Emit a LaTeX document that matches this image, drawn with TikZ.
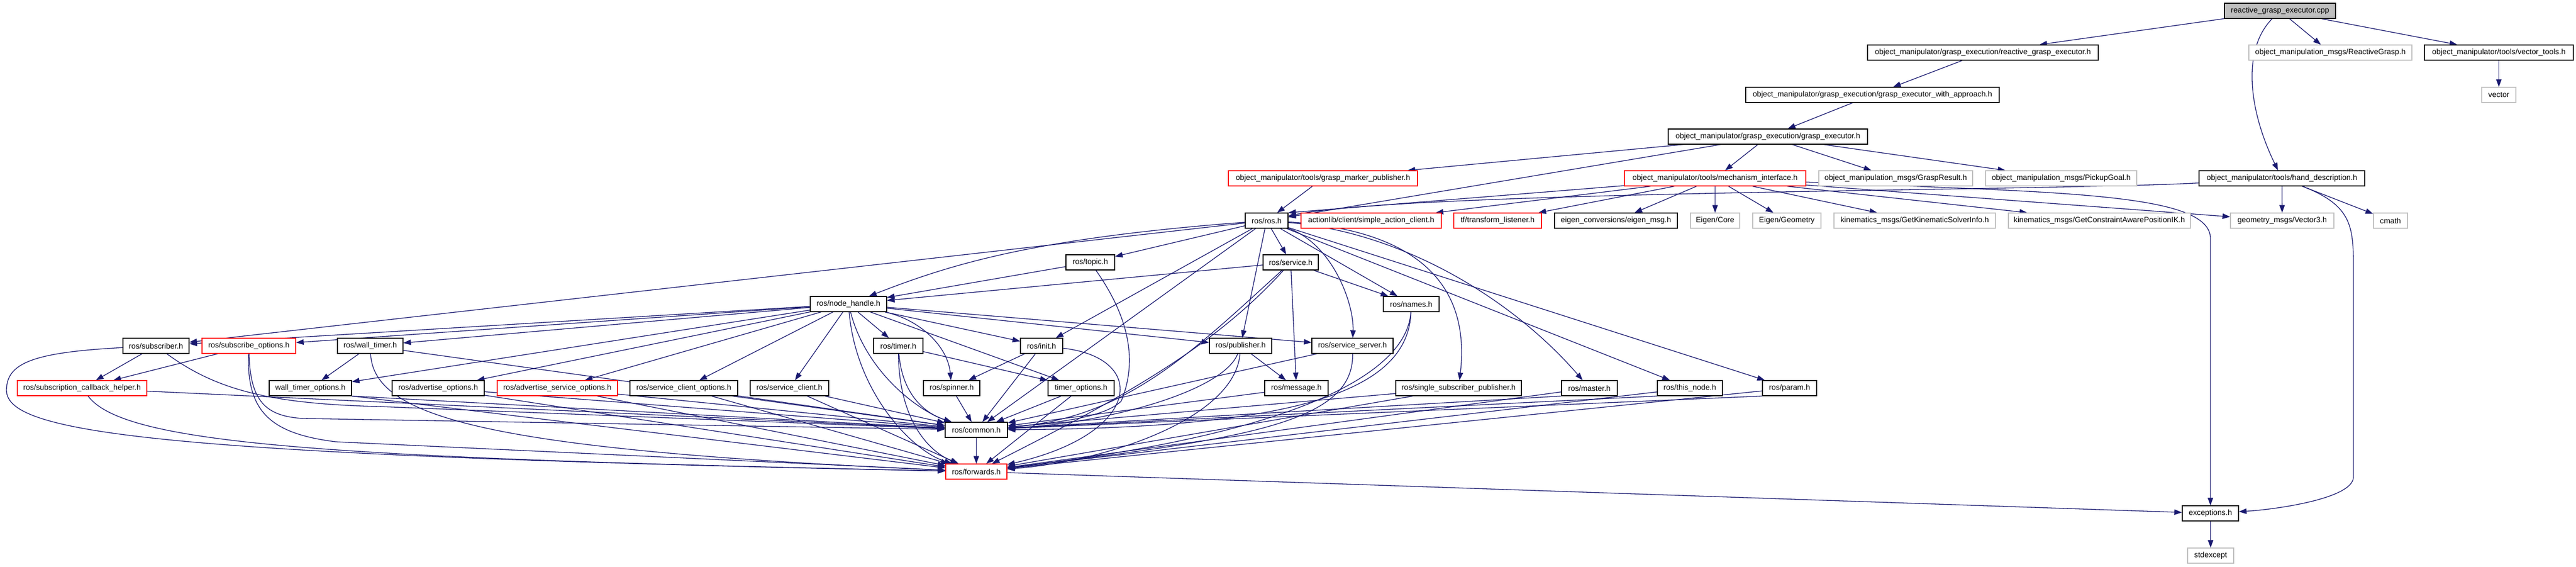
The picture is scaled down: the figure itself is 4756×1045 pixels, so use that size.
\documentclass[tikz,border=0pt]{standalone}
\usepackage{fontspec}
\setmainfont{Liberation Sans}
\usetikzlibrary{arrows.meta}
\pgfdeclarelayer{bgl}
\pgfsetlayers{bgl,main}
\definecolor{edgeblue}{HTML}{191970}
\definecolor{greyb}{HTML}{BFBFBF}
\newcommand\nodefont{\fontsize{14.2}{16}\selectfont}
\tikzset{
 nb/.style={draw=black, line width=1.3pt, fill=white, minimum height=28pt, inner sep=2pt, font=\nodefont, text=black},
 ng/.style={nb, draw=greyb},
 nr/.style={nb, draw=red},
 e/.style={draw=edgeblue, line width=1.3pt, -{Triangle[length=14pt,width=10pt]}},
}
\begin{document}
\begin{tikzpicture}[x=1pt,y=-1pt]
\useasboundingbox (0,0) rectangle (4756,1045);
% row 0
\node[nb, fill=greyb, minimum width=205pt] (cpp) at (4209.5,20) {reactive\_grasp\_executor.cpp};
% row 1
\node[nb, minimum width=426pt] (rgeh) at (3661,97) {object\_manipulator/grasp\_execution/reactive\_grasp\_executor.h};
\node[ng, minimum width=301pt] (rgmsg) at (4302.5,97) {object\_manipulation\_msgs/ReactiveGrasp.h};
\node[nb, minimum width=275pt] (vtools) at (4613.5,97) {object\_manipulator/tools/vector\_tools.h};
% row 2
\node[nb, minimum width=468pt] (appr) at (3457,175) {object\_manipulator/grasp\_execution/grasp\_executor\_with\_approach.h};
\node[ng, minimum width=63pt] (vector) at (4613.5,175) {vector};
% row 3
\node[nb, minimum width=368pt] (gexec) at (3264,252) {object\_manipulator/grasp\_execution/grasp\_executor.h};
% row 4
\node[nr, minimum width=349pt] (marker) at (2442.5,329) {object\_manipulator/tools/grasp\_marker\_publisher.h};
\node[nr, minimum width=335pt] (mech) at (3166.5,329) {object\_manipulator/tools/mechanism\_interface.h};
\node[ng, minimum width=284pt] (gresult) at (3500,329) {object\_manipulation\_msgs/GraspResult.h};
\node[ng, minimum width=279pt] (pickup) at (3805.5,329) {object\_manipulation\_msgs/PickupGoal.h};
\node[nb, minimum width=306pt] (hand) at (4213,329) {object\_manipulator/tools/hand\_description.h};
% row 5
\node[nb, minimum width=79pt] (ros) at (2338.5,407) {ros/ros.h};
\node[nr, minimum width=259pt] (actionlib) at (2531.5,407) {actionlib/client/simple\_action\_client.h};
\node[nr, minimum width=162pt] (tf) at (2765,407) {tf/transform\_listener.h};
\node[nb, minimum width=227pt] (eigenmsg) at (2983.5,407) {eigen\_conversions/eigen\_msg.h};
\node[ng, minimum width=91pt] (ecore) at (3166.5,407) {Eigen/Core};
\node[ng, minimum width=126pt] (egeom) at (3299,407) {Eigen/Geometry};
\node[ng, minimum width=298pt] (gksi) at (3535,407) {kinematics\_msgs/GetKinematicSolverInfo.h};
\node[ng, minimum width=336pt] (gcap) at (3876,407) {kinematics\_msgs/GetConstraintAwarePositionIK.h};
\node[ng, minimum width=191pt] (vec3) at (4213.5,407) {geometry\_msgs/Vector3.h};
\node[ng, minimum width=63pt] (cmath) at (4413.5,407) {cmath};
% row 6
\node[nb, minimum width=90pt] (topic) at (2013,484) {ros/topic.h};
\node[nb, minimum width=102pt] (service) at (2383,484) {ros/service.h};
% row 7
\node[nb, minimum width=141pt] (nh) at (1566.5,561) {ros/node\_handle.h};
\node[nb, minimum width=103pt] (names) at (2605.5,561) {ros/names.h};
% row 8
\node[nb, minimum width=122pt] (sub) at (288,638) {ros/subscriber.h};
\node[nr, minimum width=173pt] (subopts) at (459.5,638) {ros/subscribe\_options.h};
\node[nb, minimum width=121pt] (wtimer) at (683.5,638) {ros/wall\_timer.h};
\node[nb, minimum width=91pt] (timer) at (1658.5,638) {ros/timer.h};
\node[nb, minimum width=78pt] (init) at (1923,638) {ros/init.h};
\node[nb, minimum width=115pt] (pub) at (2290.5,638) {ros/publisher.h};
\node[nb, minimum width=150pt] (sserver) at (2497,638) {ros/service\_server.h};
% row 9
\node[nr, minimum width=239pt] (cbh) at (151.5,716) {ros/subscription\_callback\_helper.h};
\node[nb, minimum width=152pt] (wtopts) at (573,716) {wall\_timer\_options.h};
\node[nb, minimum width=170pt] (advopts) at (809,716) {ros/advertise\_options.h};
\node[nr, minimum width=222pt] (asopts) at (1029,716) {ros/advertise\_service\_options.h};
\node[nb, minimum width=199pt] (scopts) at (1262.5,716) {ros/service\_client\_options.h};
\node[nb, minimum width=145pt] (sclient) at (1457.5,716) {ros/service\_client.h};
\node[nb, minimum width=104pt] (spinner) at (1757,716) {ros/spinner.h};
\node[nb, minimum width=122pt] (topts) at (1996,716) {timer\_options.h};
\node[nb, minimum width=117pt] (message) at (2393.5,716) {ros/message.h};
\node[nb, minimum width=232pt] (ssp) at (2693,716) {ros/single\_subscriber\_publisher.h};
\node[nb, minimum width=103pt] (master) at (2934.5,716) {ros/master.h};
\node[nb, minimum width=120pt] (thisnode) at (3120,716) {ros/this\_node.h};
\node[nb, minimum width=100pt] (param) at (3304,716) {ros/param.h};
% rows 10-13
\node[nb, minimum width=115pt] (common) at (1802.5,793) {ros/common.h};
\node[nr, minimum width=113pt] (fwd) at (1802.5,870) {ros/forwards.h};
\node[nb, minimum width=104pt] (exc) at (4081,947) {exceptions.h};
\node[ng, minimum width=85pt] (stdexc) at (4081.5,1025) {stdexcept};

\begin{pgfonlayer}{bgl}
\fill[white] (0,0) rectangle (4756,1045);
% straight connectors
\foreach \a/\b in {cpp/rgeh, cpp/rgmsg, cpp/vtools, vtools/vector, rgeh/appr, appr/gexec,
  gexec/marker, gexec/ros, gexec/mech, gexec/gresult, gexec/pickup, marker/ros,
  mech/actionlib, mech/tf, mech/eigenmsg, mech/ecore, mech/egeom, mech/gksi, mech/gcap, mech/vec3,
  hand/vec3, hand/cmath, exc/stdexc, fwd/exc,
  ros/topic, ros/service, ros/names, ros/init, ros/pub, ros/sub, ros/thisnode, ros/param, ros/common,
  topic/nh, service/nh, service/names, service/message,
  nh/pub, nh/sub, nh/sserver, nh/sclient, nh/timer, nh/wtimer, nh/advopts, nh/asopts, nh/subopts,
  nh/scopts, nh/topts, nh/wtopts, nh/init,
  sub/cbh, subopts/cbh, cbh/common, wtimer/wtopts, wtimer/common,
  advopts/common, advopts/fwd, asopts/common, asopts/fwd, scopts/common, scopts/fwd,
  sclient/common, sclient/fwd, timer/topts, spinner/common, init/spinner, init/common,
  topts/common, topts/fwd, pub/message, message/common, sserver/common, ssp/common, ssp/fwd,
  master/fwd, thisnode/fwd, param/fwd, common/fwd}
  \draw[e] (\a) -- (\b);

% routed connectors
\draw[e] (mech) -- (ros.north east);
\draw[e] (cpp) .. controls (4140,90) and (4150,200) .. (hand);
\draw[e] (hand) .. controls (4345,380) and (4345,420) .. (4345,500) -- (4345,880) .. controls (4345,920) and (4200,940) .. (exc);
\draw[e] (mech) .. controls (3800,355) and (4081,355) .. (4081,440) -- (exc);
\draw[e] (hand) .. controls (3800,352) and (2600,352) .. (ros);
\draw[e] (ros) .. controls (1900,440) and (1750,490) .. (nh);
\draw[e] (ros) .. controls (2460,450) and (2500,560) .. (sserver);
\draw[e] (ros) .. controls (2550,420) and (2720,480) .. (ssp);
\draw[e] (ros) .. controls (2600,430) and (2800,560) .. (master);
\draw[e] (topic) .. controls (2095,600) and (2095,680) .. (2070,740) .. controls (2040,770) and (1950,780) .. (common);
\draw[e] (service) .. controls (2200,650) and (2080,770) .. (common);
\draw[e] (service) .. controls (2250,630) and (2100,720) .. (fwd);
\draw[e] (names) .. controls (2600,720) and (2400,790) .. (common);
\draw[e] (names) .. controls (2600,660) and (2480,790) .. (fwd);
\draw[e] (nh) .. controls (1580,720) and (1680,830) .. (fwd);
\draw[e] (nh) .. controls (1600,690) and (1700,760) .. (common);
\draw[e] (nh) .. controls (1700,590) and (1750,640) .. (spinner);
\draw[e] (timer) .. controls (1665,720) and (1700,760) .. (common);
\draw[e] (timer) .. controls (1660,770) and (1710,830) .. (fwd);
\draw[e] (init) .. controls (2120,660) and (2110,800) .. (fwd);
\draw[e] (pub) .. controls (2260,720) and (2050,780) .. (common);
\draw[e] (pub) .. controls (2280,770) and (2050,850) .. (fwd);
\draw[e] (sserver) .. controls (2500,780) and (2300,810) .. (fwd);
\draw[e] (sub) .. controls (60,650) and (12,670) .. (12,720) .. controls (12,800) and (300,840) .. (fwd);
\draw[e] (sub) .. controls (400,720) and (500,745) .. (700,750) -- (common);
\draw[e] (cbh) .. controls (230,820) and (600,845) .. (fwd);
\draw[e] (subopts) .. controls (462,740) and (490,768) .. (560,772) -- (common);
\draw[e] (subopts) .. controls (455,760) and (500,800) .. (620,815) -- (fwd);
\draw[e] (wtimer) .. controls (690,770) and (900,830) .. (fwd);
\draw[e] (wtopts.south east) -- (common);
\draw[e] (wtopts.south east) -- (fwd);
\draw[e] (master.south west) -- (common);
\draw[e] (thisnode.south west) -- (common);
\draw[e] (param.south west) -- (common);
\end{pgfonlayer}
\end{tikzpicture}
\end{document}
